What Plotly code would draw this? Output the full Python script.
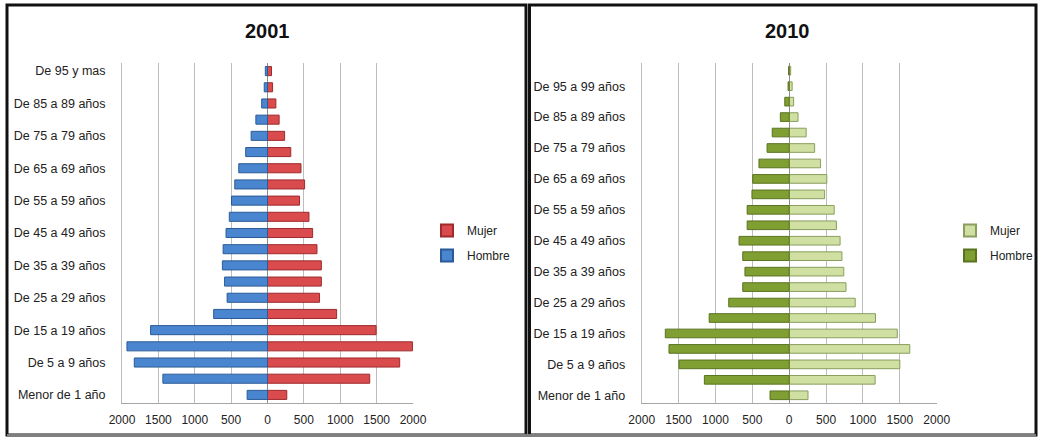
import plotly.graph_objects as go

# ---------------- data ----------------
cats_2001 = ["Menor de 1 año", "De 1 a 4 años", "De 5 a 9 años", "De 10 a 14 años",
             "De 15 a 19 años", "De 20 a 24 años", "De 25 a 29 años", "De 30 a 34 años",
             "De 35 a 39 años", "De 40 a 44 años", "De 45 a 49 años", "De 50 a 54 años",
             "De 55 a 59 años", "De 60 a 64 años", "De 65 a 69 años", "De 70 a 74 años",
             "De 75 a 79 años", "De 80 a 84 años", "De 85 a 89 años", "De 90 a 94 años",
             "De 95 y mas"]
hombre_2001 = [280, 1438, 1831, 1932, 1607, 740, 555, 590, 620, 610, 570, 525,
               495, 450, 395, 300, 225, 160, 80, 45, 30]
mujer_2001 = [265, 1405, 1817, 1992, 1493, 950, 715, 740, 740, 680, 620, 570,
              440, 510, 460, 320, 235, 160, 115, 70, 55]

cats_2010 = ["Menor de 1 año", "De 1 a 4 años", "De 5 a 9 años", "De 10 a 14 años",
             "De 15 a 19 años", "De 20 a 24 años", "De 25 a 29 años", "De 30 a 34 años",
             "De 35 a 39 años", "De 40 a 44 años", "De 45 a 49 años", "De 50 a 54 años",
             "De 55 a 59 años", "De 60 a 64 años", "De 65 a 69 años", "De 70 a 74 años",
             "De 75 a 79 años", "De 80 a 84 años", "De 85 a 89 años", "De 90 a 94 años",
             "De 95 a 99 años", "De 100 y más"]
hombre_2010 = [260, 1150, 1495, 1630, 1680, 1085, 820, 630, 600, 630, 680, 570,
               570, 505, 495, 410, 300, 230, 120, 60, 15, 8]
mujer_2010 = [255, 1165, 1500, 1635, 1465, 1170, 895, 770, 740, 715, 690, 640,
              610, 480, 510, 425, 345, 230, 120, 60, 40, 20]

x_ticks = [-2000, -1500, -1000, -500, 0, 500, 1000, 1500, 2000]
x_tick_text = ["2000", "1500", "1000", "500", "0", "500", "1000", "1500", "2000"]

W, H = 1040, 438
FONT = "Liberation Sans"


def px_x(p):
    return p / W


def px_y(p):
    return 1 - p / H


fig = go.Figure()

# 2001 panel
fig.add_trace(go.Bar(y=cats_2001, x=mujer_2001, orientation="h", name="Mujer",
                     marker=dict(color="#DA4B4D", line=dict(color="#9E2A2C", width=1)),
                     width=0.56, xaxis="x", yaxis="y", legend="legend", legendgroup="m1"))
fig.add_trace(go.Bar(y=cats_2001, x=[-v for v in hombre_2001], orientation="h", name="Hombre",
                     marker=dict(color="#4A86CF", line=dict(color="#2B5B97", width=1)),
                     width=0.56, xaxis="x", yaxis="y", legend="legend", legendgroup="h1"))

# 2010 panel
fig.add_trace(go.Bar(y=cats_2010, x=mujer_2010, orientation="h", name="Mujer",
                     marker=dict(color="#CFE0A2", line=dict(color="#8A9E5E", width=1)),
                     width=0.56, xaxis="x2", yaxis="y2", legend="legend2", legendgroup="m2"))
fig.add_trace(go.Bar(y=cats_2010, x=[-v for v in hombre_2010], orientation="h", name="Hombre",
                     marker=dict(color="#7F9F32", line=dict(color="#5A7320", width=1)),
                     width=0.56, xaxis="x2", yaxis="y2", legend="legend2", legendgroup="h2"))

xaxis_common = dict(range=[-2000, 2000], tickvals=x_ticks, ticktext=x_tick_text,
                    showgrid=True, gridcolor="#BDBDBD", gridwidth=1,
                    zeroline=True, zerolinecolor="#8C8C8C", zerolinewidth=1,
                    showline=True, linecolor="#A6A6A6", linewidth=1,
                    ticks="outside", ticklen=6, tickcolor="rgba(0,0,0,0)",
                    tickfont=dict(family=FONT, size=12, color="#222"), fixedrange=True)

yaxis_common = dict(type="category", showgrid=False, showline=True, linecolor="#BDBDBD",
                    ticks="", tickfont=dict(family=FONT, size=12.5, color="#222"),
                    ticklabelstandoff=13, fixedrange=True, automargin=False)

plot_bottom = px_y(403)
plot_top = px_y(63)

fig.update_layout(
    width=W, height=H,
    margin=dict(l=0, r=0, t=0, b=0, autoexpand=False),
    paper_bgcolor="white", plot_bgcolor="white",
    barmode="overlay", bargap=0.4,
    showlegend=True,
    xaxis=dict(domain=[px_x(122), px_x(413)], anchor="y", automargin=False, **xaxis_common),
    yaxis=dict(domain=[plot_bottom, plot_top], anchor="x", range=[-0.5, len(cats_2001) - 0.5],
               tickvals=cats_2001[::2], ticktext=cats_2001[::2], **yaxis_common),
    xaxis2=dict(domain=[px_x(641.7), px_x(936.7)], anchor="y2", automargin=False, **xaxis_common),
    yaxis2=dict(domain=[plot_bottom, plot_top], anchor="x2", range=[-0.5, len(cats_2010) - 0.5],
                tickvals=cats_2010[::2], ticktext=cats_2010[::2], **yaxis_common),
    legend=dict(x=px_x(427), y=px_y(216), xanchor="left", yanchor="top",
                font=dict(family=FONT, size=12, color="#222"), tracegroupgap=6,
                bgcolor="rgba(0,0,0,0)", itemsizing="constant"),
    legend2=dict(x=px_x(950), y=px_y(216), xanchor="left", yanchor="top",
                 font=dict(family=FONT, size=12, color="#222"), tracegroupgap=6,
                 bgcolor="rgba(0,0,0,0)", itemsizing="constant"),
    font=dict(family=FONT),
)

# titles
fig.add_annotation(text="<b>2001</b>", x=px_x(267), y=px_y(31), xref="paper", yref="paper",
                   xanchor="center", yanchor="middle",
                   showarrow=False, font=dict(family=FONT, size=20, color="#111"))
fig.add_annotation(text="<b>2010</b>", x=px_x(787), y=px_y(31), xref="paper", yref="paper",
                   xanchor="center", yanchor="middle",
                   showarrow=False, font=dict(family=FONT, size=20, color="#111"))

# panel frames
for x0, x1 in [(7, 526), (529.5, 1036)]:
    fig.add_shape(type="rect", xref="paper", yref="paper",
                  x0=px_x(x0), x1=px_x(x1), y0=px_y(435), y1=px_y(5),
                  line=dict(color="#111", width=3), fillcolor="rgba(0,0,0,0)", layer="above")
fig.add_shape(type="line", xref="paper", yref="paper", x0=px_x(7), x1=px_x(1036),
              y0=px_y(435.5), y1=px_y(435.5), line=dict(color="#7F7F7F", width=3), layer="above")

fig.write_html("out.html", config={"displayModeBar": False},
               post_script="document.body.style.margin='0';")
